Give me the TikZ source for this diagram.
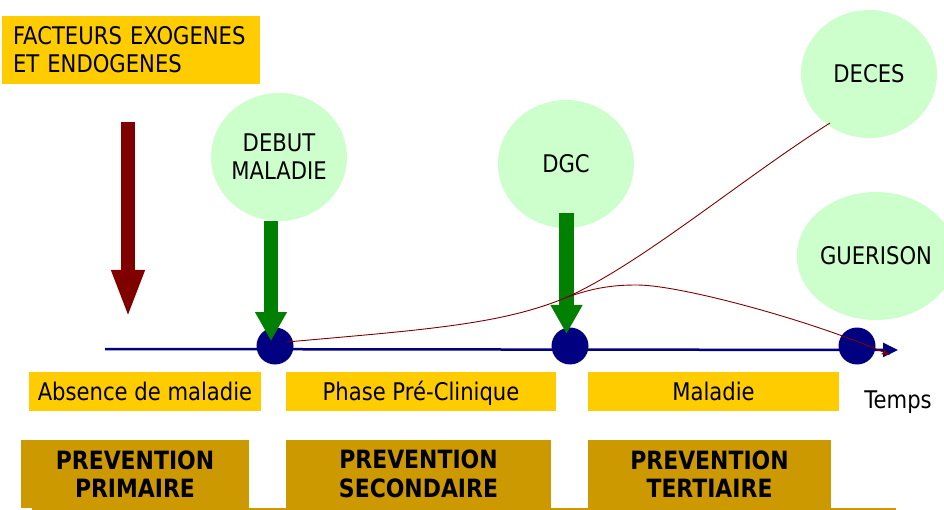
\documentclass[tikz,border=0pt]{standalone}
\usepackage{fontspec}
\setmainfont{DejaVu Sans}[FakeStretch=0.87]
\usetikzlibrary{shapes.geometric,arrows.meta}
\definecolor{yel}{HTML}{FFCC00}
\definecolor{gold}{HTML}{CC9900}
\definecolor{lgreen}{HTML}{CCFFCC}
\definecolor{dgreen}{HTML}{008000}
\definecolor{dred}{HTML}{800000}
\definecolor{navy}{HTML}{000080}
\tikzset{
  txt/.style={font=\fontsize{24.3}{28}\selectfont, text=black},
  lbl/.style={txt, fill=yel, inner sep=0pt, minimum height=39pt, text height=17.7pt, text depth=0pt},
  prev/.style={font=\bfseries\fontsize{25.2}{28.5}\selectfont, fill=gold, inner sep=0pt, minimum height=68pt, align=center},
  bubble/.style={txt, ellipse, fill=lgreen, inner sep=0pt, minimum width=136pt, minimum height=128pt, align=center},
  dotnode/.style={circle, fill=navy, inner sep=0pt, minimum size=37pt},
  fatgreen/.style={dgreen, line width=14.5pt, -{Triangle[width=30pt,length=29pt]}},
  fatred/.style={dred, line width=14pt, -{Triangle[width=30pt,length=48pt]}},
  axisline/.style={navy, line width=2.5pt, -{Triangle[width=14pt,length=15pt]}},
  course/.style={dred, line width=0.9pt},
}
\begin{document}
\begin{tikzpicture}[x=1pt,y=-1pt]
\useasboundingbox (0,0) rectangle (944,510);
% top-left label
\node[txt, fill=yel, inner xsep=11pt, inner ysep=0pt, text width=236pt, minimum height=68pt, align=left] (fact) at (131,50) {FACTEURS EXOGENES\\ET ENDOGENES};
% red arrow
\coordinate (rtop) at (128,122);
\coordinate (rtip) at (128,318);
\draw[fatred] (rtop) -- (rtip);
% bubbles
\node[bubble] (deb) at (279,157) {DEBUT\\MALADIE};
\node[bubble] (dgc) at (566,164) {DGC};
\node[bubble] (dec) at (869,74) {DECES};
\node[bubble] (gue) at (876,256) {GUERISON};
% axis
\coordinate (ax0) at (105,349);
\coordinate (ax1) at (898,350);
\draw[axisline] (ax0) -- (ax1);
\node[dotnode] (d1) at (275,346) {};
\node[dotnode] (d2) at (570,346) {};
\node[dotnode] (d3) at (857,346) {};
% green arrows
\coordinate (g1a) at (271,221);
\coordinate (g1b) at (271,341);
\coordinate (g2a) at (566.5,213);
\coordinate (g2b) at (566.5,334);
\draw[fatgreen] (g1a) -- (g1b);
\draw[fatgreen] (g2a) -- (g2b);
% disease courses
\coordinate (c0) at (287,342);
\coordinate (cb) at (565,298);
\coordinate (cd) at (830,123);
\coordinate (cg) at (890,355);
\draw[course] (c0) .. controls (420,330) and (500,325) .. (cb)
  .. controls (640,265) and (740,180) .. (cd);
\draw[course, -{Stealth[length=9pt,width=6pt]}] (cb) .. controls (595,287) and (615,285) .. (637,285)
  .. controls (680,285) and (810,320) .. (cg);
% phase labels
\node[lbl, minimum width=232pt] (abs) at (145,391.5) {Absence de maladie};
\node[lbl, minimum width=270pt] (pre) at (421,391.5) {Phase Pré-Clinique};
\node[lbl, minimum width=251pt] (mal) at (713.5,391.5) {Maladie};
\node[txt, inner sep=0pt, text height=17.7pt, text depth=0pt] (tps) at (898,399.5) {Temps};
% prevention boxes
\node[prev, minimum width=228pt] (p1) at (135,474) {PREVENTION\\PRIMAIRE};
\node[prev, minimum width=265pt] (p2) at (418.5,474) {PREVENTION\\SECONDAIRE};
\node[prev, minimum width=243pt] (p3) at (709.5,474) {PREVENTION\\TERTIAIRE};
% bottom rule
\coordinate (b0) at (32,509);
\coordinate (b1) at (896,509);
\draw[gold, line width=1.2pt] (b0) -- (b1);
\end{tikzpicture}
\end{document}
